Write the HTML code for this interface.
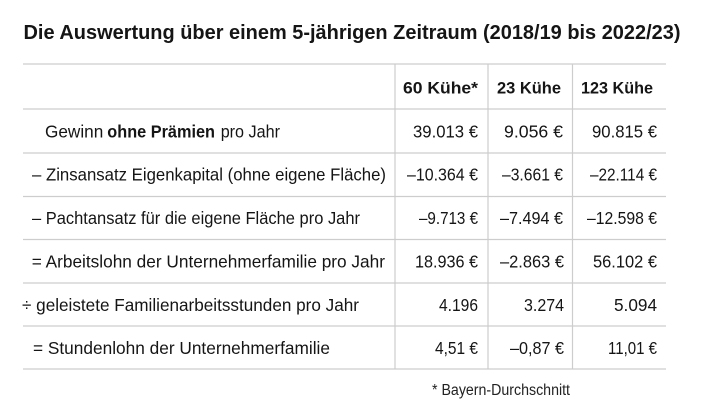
<!DOCTYPE html>
<html><head><meta charset="utf-8"><style>
html,body{margin:0;padding:0;background:#fff;}
svg{display:block;}
text{font-family:"Liberation Sans",sans-serif;fill:#151515;}
.t{font-size:20.5px;font-weight:bold;}
.h{font-size:16.5px;font-weight:bold;}
.b{font-size:17.5px;}
.f{font-size:15.5px;fill:#222;}
</style></head><body>
<svg width="720" height="415" viewBox="0 0 720 415" xmlns="http://www.w3.org/2000/svg">
<rect width="720" height="415" fill="#fff"/>
<text class="t" x="23.5" y="39" textLength="657" lengthAdjust="spacingAndGlyphs">Die Auswertung über einem 5-jährigen Zeitraum (2018/19 bis 2022/23)</text>
<g stroke="#cdcdcd" stroke-width="1.2">
<line x1="23" y1="64" x2="666" y2="64"/>
<line x1="23" y1="109" x2="666" y2="109"/>
<line x1="23" y1="153" x2="666" y2="153"/>
<line x1="23" y1="196.5" x2="666" y2="196.5"/>
<line x1="23" y1="239.5" x2="666" y2="239.5"/>
<line x1="23" y1="283" x2="666" y2="283"/>
<line x1="23" y1="326" x2="666" y2="326"/>
<line x1="23" y1="369" x2="666" y2="369"/>
<line x1="395" y1="64" x2="395" y2="369"/>
<line x1="488" y1="64" x2="488" y2="369"/>
<line x1="572.5" y1="64" x2="572.5" y2="369"/>
</g>
<text class="h" x="403" y="93.3" textLength="75" lengthAdjust="spacingAndGlyphs">60 Kühe*</text>
<text class="h" x="497" y="93.3" textLength="64" lengthAdjust="spacingAndGlyphs">23 Kühe</text>
<text class="h" x="581" y="93.3" textLength="72" lengthAdjust="spacingAndGlyphs">123 Kühe</text>

<text class="b" x="45" y="137.3" textLength="58.3" lengthAdjust="spacingAndGlyphs">Gewinn</text>
<text class="b" x="107.3" y="137.3" textLength="107.7" lengthAdjust="spacingAndGlyphs" font-weight="bold">ohne Prämien</text>
<text class="b" x="220.7" y="137.3" textLength="59.3" lengthAdjust="spacingAndGlyphs">pro Jahr</text>
<text class="b" x="32" y="180.7" textLength="354" lengthAdjust="spacingAndGlyphs">– Zinsansatz Eigenkapital (ohne eigene Fläche)</text>
<text class="b" x="32" y="224" textLength="328" lengthAdjust="spacingAndGlyphs">– Pachtansatz für die eigene Fläche pro Jahr</text>
<text class="b" x="31.7" y="267.4" textLength="353.3" lengthAdjust="spacingAndGlyphs">= Arbeitslohn der Unternehmerfamilie pro Jahr</text>
<text class="b" x="22" y="310.8" textLength="337" lengthAdjust="spacingAndGlyphs">÷ geleistete Familienarbeitsstunden pro Jahr</text>
<text class="b" x="33" y="354.2" textLength="297" lengthAdjust="spacingAndGlyphs">= Stundenlohn der Unternehmerfamilie</text>

<text class="b" x="413" y="137.3" textLength="65" lengthAdjust="spacingAndGlyphs">39.013 €</text>
<text class="b" x="504" y="137.3" textLength="59" lengthAdjust="spacingAndGlyphs">9.056 €</text>
<text class="b" x="592" y="137.3" textLength="65" lengthAdjust="spacingAndGlyphs">90.815 €</text>

<text class="b" x="407" y="180.7" textLength="71" lengthAdjust="spacingAndGlyphs">–10.364 €</text>
<text class="b" x="502" y="180.7" textLength="61" lengthAdjust="spacingAndGlyphs">–3.661 €</text>
<text class="b" x="590" y="180.7" textLength="67" lengthAdjust="spacingAndGlyphs">–22.114 €</text>

<text class="b" x="419" y="224" textLength="59" lengthAdjust="spacingAndGlyphs">–9.713 €</text>
<text class="b" x="500" y="224" textLength="63" lengthAdjust="spacingAndGlyphs">–7.494 €</text>
<text class="b" x="587" y="224" textLength="70" lengthAdjust="spacingAndGlyphs">–12.598 €</text>

<text class="b" x="415" y="267.4" textLength="63" lengthAdjust="spacingAndGlyphs">18.936 €</text>
<text class="b" x="500" y="267.4" textLength="64" lengthAdjust="spacingAndGlyphs">–2.863 €</text>
<text class="b" x="593" y="267.4" textLength="64" lengthAdjust="spacingAndGlyphs">56.102 €</text>

<text class="b" x="439" y="310.8" textLength="39" lengthAdjust="spacingAndGlyphs">4.196</text>
<text class="b" x="524" y="310.8" textLength="40" lengthAdjust="spacingAndGlyphs">3.274</text>
<text class="b" x="614" y="310.8" textLength="43" lengthAdjust="spacingAndGlyphs">5.094</text>

<text class="b" x="435" y="354.2" textLength="43" lengthAdjust="spacingAndGlyphs">4,51 €</text>
<text class="b" x="510" y="354.2" textLength="54" lengthAdjust="spacingAndGlyphs">–0,87 €</text>
<text class="b" x="608" y="354.2" textLength="49" lengthAdjust="spacingAndGlyphs">11,01 €</text>

<text class="f" x="432" y="395" textLength="138" lengthAdjust="spacingAndGlyphs">* Bayern-Durchschnitt</text>
</svg>
</body></html>
